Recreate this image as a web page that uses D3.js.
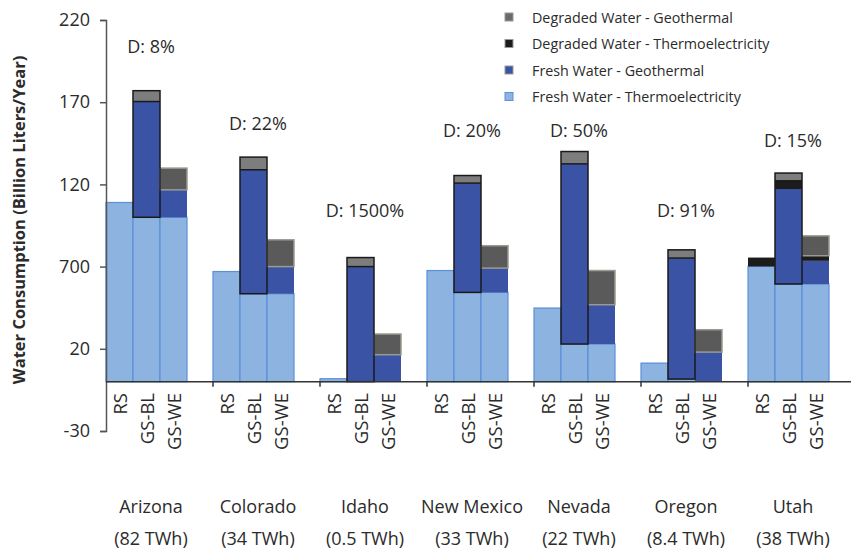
<!DOCTYPE html>
<html>
<head>
<meta charset="utf-8">
<script src="https://cdn.jsdelivr.net/npm/d3@7"></script>
<style>
  body { margin: 0; background: #fff; }
  text { font-family: 'Open Sans', sans-serif; fill: #2b2b2b; }
</style>
</head>
<body>
<svg id="chart"></svg>
<script>
const width = 851;
const height = 550;

// data ----------------------------------
const states = ['Arizona', 'Colorado', 'Idaho', 'New Mexico', 'Nevada', 'Oregon', 'Utah'];
const energy = ['(82 TWh)', '(34 TWh)', '(0.5 TWh)', '(33 TWh)', '(22 TWh)', '(8.4 TWh)', '(38 TWh)'];
const scenarios = ['RS', 'GS-BL', 'GS-WE'];
const diffLabels = ['D: 8%', 'D: 22%', 'D: 1500%', 'D: 20%', 'D: 50%', 'D: 91%', 'D: 15%'];
// height (data units) of each D: label baseline
const diffLevels = [200, 153, 100, 149, 149, 100, 143];

// one value per state x scenario (RS, GS-BL, GS-WE)
const freshThermo = [109, 100, 100, 67, 53.5, 53.5, 1.8, 0, 0, 67.6, 54.3, 54.3, 44.8, 22.9, 22.9, 11.3, 1.6, 0, 70.1, 59.4, 59.4];
const freshGeo = [0, 70.4, 16.7, 0, 75.4, 16.5, 0, 70, 16.4, 0, 66.5, 14.8, 0, 109.6, 23.9, 0, 73.6, 18, 0, 57.8, 14.1];
const degradedThermo = [0, 0, 0, 0, 0, 0, 0, 0, 0, 0, 0, 0, 0, 0, 0, 0, 0, 0, 5.4, 5, 3.1];
const degradedGeo = [0, 6.6, 13.2, 0, 7.7, 16.3, 0, 5.5, 12.6, 0, 4.6, 13.6, 0, 7.5, 20.8, 0, 5, 13.6, 0, 4.7, 12.1];

const seriesNames = ['Fresh Water - Thermoelectricity', 'Fresh Water - Geothermal', 'Degraded Water - Thermoelectricity', 'Degraded Water - Geothermal'];
const seriesValues = [freshThermo, freshGeo, degradedThermo, degradedGeo];
const seriesColors = ['#8db3e1', '#3a53a5', '#1c1c1a', '#7d7d7d'];

const yTickValues = [-30, 20, 70, 120, 170, 220];
const yTickLabels = ['-30', '20', '700', '120', '170', '220'];
// ---------------------------------------

const svg = d3.select('#chart').attr('width', width).attr('height', height);

const y = d3.scaleLinear().domain([-30, 220]).range([431, 20]);
const x = d3.scaleBand().domain(states).range([106, 855]).paddingInner(0);
const xs = d3.scaleBand().domain(scenarios).range([0, 81]);

// rows for stacking
const rows = [];
states.forEach((s, i) => {
  scenarios.forEach((sc, j) => {
    const k = i * 3 + j;
    const row = { state: s, scenario: sc };
    seriesNames.forEach((n, si) => { row[n] = seriesValues[si][k]; });
    rows.push(row);
  });
});
const stacked = d3.stack().keys(seriesNames)(rows);

const bars = svg.append('g');
stacked.forEach((layer, si) => {
  bars.selectAll(null)
    .data(layer.filter(d => d[1] - d[0] > 0))
    .enter()
    .append('rect')
      .attr('x', d => x(d.data.state) + xs(d.data.scenario))
      .attr('width', xs.bandwidth())
      .attr('y', d => y(d[1]))
      .attr('height', d => y(d[0]) - y(d[1]))
      .attr('fill', d => {
        if (si === 3 && d.data.scenario === 'GS-WE') return '#5a5a5a';
        return seriesColors[si];
      })
      .attr('stroke', d => {
        if (si === 0) return '#5b8fd8';
        if (si === 3 && d.data.scenario === 'GS-WE') return '#9a9a90';
        return 'none';
      })
      .attr('stroke-width', si === 0 ? 1.2 : 1.5);
});

// black outline around the geothermal part of GS-BL bars
bars.selectAll(null)
  .data(rows.filter(d => d.scenario === 'GS-BL'))
  .enter()
  .append('rect')
    .attr('x', d => x(d.state) + xs('GS-BL'))
    .attr('width', xs.bandwidth())
    .attr('y', d => y(d3.sum(seriesNames, n => d[n])))
    .attr('height', d => y(d[seriesNames[0]]) - y(d3.sum(seriesNames, n => d[n])))
    .attr('fill', 'none')
    .attr('stroke', '#1a1a1a')
    .attr('stroke-width', 1.5);

// line between fresh and degraded geo in GS-BL
bars.selectAll(null)
  .data(rows.filter(d => d.scenario === 'GS-BL'))
  .enter()
  .append('line')
    .attr('x1', d => x(d.state) + xs('GS-BL'))
    .attr('x2', d => x(d.state) + xs('GS-BL') + xs.bandwidth())
    .attr('y1', d => y(d[seriesNames[0]] + d[seriesNames[1]] + d[seriesNames[2]]))
    .attr('y2', d => y(d[seriesNames[0]] + d[seriesNames[1]] + d[seriesNames[2]]))
    .attr('stroke', '#1a1a1a')
    .attr('stroke-width', 1.5);

// axes ----------------------------------
const yAxis = svg.append('g')
  .attr('transform', `translate(106, 0)`)
  .call(d3.axisLeft(y).tickValues(yTickValues).tickFormat((d, i) => yTickLabels[i]).tickSize(6).tickPadding(10));
yAxis.select('.domain').attr('stroke', '#555').attr('stroke-width', 1.5);
yAxis.selectAll('.tick line').attr('stroke', '#555').attr('stroke-width', 1.5);
yAxis.selectAll('.tick text')
  .style('font-family', "'Open Sans', sans-serif")
  .style('font-size', '18px')
  .attr('fill', '#2b2b2b');

svg.append('line')
  .attr('x1', 106).attr('x2', 851)
  .attr('y1', y(0)).attr('y2', y(0))
  .attr('stroke', '#333').attr('stroke-width', 1.5);
svg.selectAll('.xtick')
  .data(states.slice(1))
  .enter()
  .append('line')
    .attr('x1', d => x(d)).attr('x2', d => x(d))
    .attr('y1', y(0)).attr('y2', y(0) + 5)
    .attr('stroke', '#333').attr('stroke-width', 1.5);

// scenario labels
rows.forEach(d => {
  const cx = x(d.state) + xs(d.scenario) + xs.bandwidth() / 2;
  svg.append('text')
    .attr('transform', `translate(${cx}, 393) rotate(-90)`)
    .attr('text-anchor', 'end')
    .attr('dominant-baseline', 'central')
    .style('font-size', '18.5px')
    .text(d.scenario);
});

// state labels
svg.selectAll('.state')
  .data(states)
  .enter()
  .append('text')
    .attr('x', d => x(d) + 45)
    .attr('y', 513)
    .attr('text-anchor', 'middle')
    .style('font-size', '18px')
    .text(d => d);
svg.selectAll('.energy')
  .data(energy)
  .enter()
  .append('text')
    .attr('x', (d, i) => x(states[i]) + 45)
    .attr('y', 545)
    .attr('text-anchor', 'middle')
    .style('font-size', '18px')
    .text(d => d);

// D: labels
svg.selectAll('.diff')
  .data(diffLabels)
  .enter()
  .append('text')
    .attr('x', (d, i) => x(states[i]) + 45)
    .attr('y', (d, i) => y(diffLevels[i]))
    .attr('text-anchor', 'middle')
    .style('font-size', '18px')
    .text(d => d);

// y label
svg.append('text')
  .attr('transform', `translate(18, 220) rotate(-90)`)
  .attr('text-anchor', 'middle')
  .attr('dominant-baseline', 'central')
  .style('font-size', '16.5px')
  .style('font-weight', 'bold')
  .text('Water Consumption (Billion Liters/Year)');

// legend
const legendOrder = [3, 2, 1, 0];
const legend = svg.append('g');
legendOrder.forEach((si, i) => {
  const ly = 17 + i * 26.5;
  legend.append('rect')
    .attr('x', 505).attr('y', ly - 4)
    .attr('width', 8).attr('height', 8)
    .attr('fill', si === 3 ? '#6a6a6a' : seriesColors[si])
    .attr('stroke', si === 0 ? '#5b8fd8' : '#999')
    .attr('stroke-width', 1);
  legend.append('text')
    .attr('x', 532).attr('y', ly)
    .attr('dominant-baseline', 'central')
    .style('font-size', '14.3px')
    .text(seriesNames[si]);
});
</script>
</body>
</html>
